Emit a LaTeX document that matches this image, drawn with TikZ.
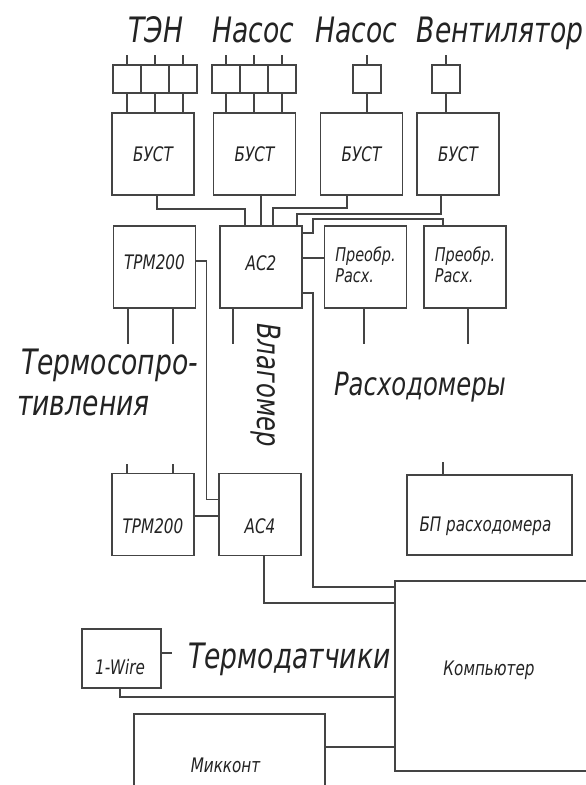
\documentclass[tikz,border=0pt]{standalone}
\usepackage{fontspec}
\setmainfont{DejaVu Sans}[FakeStretch=0.76]
\definecolor{wiregray}{RGB}{68, 68, 68}
\definecolor{inkgray}{RGB}{35, 35, 35}
\usetikzlibrary{positioning}

\begin{document}
\begin{tikzpicture}[
    x=1pt, y=-1pt,
    every node/.append style={text=inkgray},
  ]

  \tikzset{
    unit/.style={
      draw=wiregray, line width=1.3pt, inner sep=0pt, outer sep=0pt,
      minimum width=82, minimum height=82,
      font=\fontsize{20}{20}\selectfont\itshape,
    },
    cell/.style={
      draw=wiregray, line width=1.3pt, inner sep=0pt, outer sep=0pt,
      minimum size=28,
    },
    link/.style={draw=wiregray, line width=1.3pt},
    boxtext/.style={font=\fontsize{20}{20}\selectfont\itshape, inner sep=0pt},
    twoline/.style={font=\fontsize{19}{21}\selectfont\itshape, inner sep=0pt, align=left},
    title/.style={font=\fontsize{35}{35}\selectfont\itshape, inner sep=0pt, anchor=base},
    midtitle/.style={font=\fontsize{32}{32}\selectfont\itshape, inner sep=0pt},
  }

  \useasboundingbox (0, 0) rectangle (586, 785);
  \clip (0, 0) rectangle (586, 785);

  %% ---------------- LOADS ----------------
  \node[title] (tenlbl) at (156, 42) {ТЭН};
  \node[title] (pump1lbl) at (253, 42) {Насос};
  \node[title] (pump2lbl) at (356, 42) {Насос};
  \node[title] (fanlbl) at (500, 42) {Вентилятор};

  % load cells
  \node[cell] (ten1) at (127, 79) {};
  \node[cell, right=0pt of ten1] (ten2) {};
  \node[cell, right=0pt of ten2] (ten3) {};
  \node[cell] (pumpa1) at (226, 79) {};
  \node[cell, right=0pt of pumpa1] (pumpa2) {};
  \node[cell, right=0pt of pumpa2] (pumpa3) {};
  \node[cell] (pumpb) at (367, 79) {};
  \node[cell] (fan) at (446, 79) {};

  % power switches
  \node[unit] (bust1) at (153, 154) {БУСТ};
  \node[unit] (bust2) at (254.5, 154) {БУСТ};
  \node[unit] (bust3) at (361.5, 154) {БУСТ};
  \node[unit] (bust4) at (458, 154) {БУСТ};

  \foreach \c/\b in {ten1/bust1, ten2/bust1, ten3/bust1,
                     pumpa1/bust2, pumpa2/bust2, pumpa3/bust2,
                     pumpb/bust3, fan/bust4} {
    \draw[link] (\c.north) -- ++(0, -10);
    \draw[link] (\c.south) -- (\c.south |- \b.north);
  }

  %% ---------------- MIDDLE ROW ----------------
  \node[unit, label={[boxtext, yshift=5]center:ТРМ200}] (trm1) at (154.5, 267) {};
  \node[unit, label={[boxtext, yshift=4]center:АС2}] (ac2) at (261, 267) {};
  \node[unit, label={[twoline, yshift=2]center:Преобр.\\Расх.}] (conv1) at (365.5, 267) {};
  \node[unit, label={[twoline, yshift=2]center:Преобр.\\Расх.}] (conv2) at (465, 267) {};

  % switches to AC2
  \draw[link] ([xshift=4]bust1.south) -- ++(0, 14) -| ([xshift=-16]ac2.north);
  \draw[link] (bust2.south -| ac2.north) -- (ac2.north);
  \draw[link] ([xshift=-14.5]bust3.south) -- ++(0, 13) -| ([xshift=12]ac2.north);
  \draw[link] ([xshift=-17]bust4.south) -- ++(0, 19) -| ([xshift=36]ac2.north);
  % AC2 to converters
  \draw[link] ([yshift=-7]ac2.north east) -- ++(11, 0) -- ++(0, -14) -| ([xshift=-22]conv2.north);
  \draw[link] ([yshift=9]ac2.east) -- ([yshift=9]conv1.west);

  % sensor leads
  \draw[link] ([xshift=-26.5]trm1.south) -- ++(0, 36);
  \draw[link] ([xshift=18.5]trm1.south) -- ++(0, 36);
  \draw[link] ([xshift=-28]ac2.south) -- ++(0, 36);
  \draw[link] ([xshift=-1.5]conv1.south) -- ++(0, 36);
  \draw[link] ([xshift=3]conv2.south) -- ++(0, 36);

  \node[title, anchor=base west] (res1lbl) at (21, 374) {Термосопро-};
  \node[title, anchor=base west] (res2lbl) at (17, 415) {тивления};
  \node[midtitle, rotate=-90] (humlbl) at (266, 385) {Влагомер};
  \node[midtitle, anchor=base] (flowlbl) at (420, 395) {Расходомеры};

  %% ---------------- LOWER ROW ----------------
  \node[unit, label={[boxtext, yshift=-12]center:ТРМ200}] (trm2) at (153, 514.5) {};
  \node[unit, label={[boxtext, yshift=-12]center:АС4}] (ac4) at (260, 514.5) {};
  \node[unit, minimum width=165, minimum height=80,
        label={[boxtext, yshift=-11, xshift=-4]center:БП расходомера}] (psu) at (489.5, 515) {};

  \draw[link] ([xshift=-26]trm2.north) -- ++(0, -10);
  \draw[link] ([xshift=20]trm2.north) -- ++(0, -10);
  \draw[link] ([xshift=-46.5]psu.north) -- ++(0, -13);
  \draw[link] ([yshift=6]trm1.east) -- ++(11, 0) |- ([yshift=15]ac4.west);
  \draw[link] ([yshift=-1.5]trm2.east) -- ([yshift=-1.5]ac4.west);

  %% ---------------- COMPUTER ----------------
  \node[unit, minimum width=195, minimum height=190,
        label={[boxtext, yshift=6, xshift=-3.5]center:Компьютер}] (pc) at (492.5, 676) {};
  \node[unit, minimum width=79, minimum height=59,
        label={[boxtext, yshift=-9, xshift=-1.5]center:1-Wire}] (onewire) at (121.5, 658.5) {};
  \node[unit, minimum width=191, minimum height=110,
        label={[boxtext, yshift=4, xshift=-4]center:Микконт}] (mcu) at (229.5, 769) {};
  \node[title, anchor=base west] (thermolbl) at (188, 668) {Термодатчики};

  \draw[link] ([yshift=-26]ac2.east) -- ++(11, 0) |- ([yshift=-6]pc.north west);
  \draw[link] ([xshift=4]ac4.south) |- ([yshift=-22]pc.north west);
  \draw[link] ([xshift=-1.5]onewire.south) |- ([yshift=-116]pc.north west);
  \draw[link] ([yshift=5.5]onewire.east) -- ++(11, 0);
  \draw[link] ([yshift=-33]mcu.north east) -| (pc.west);

\end{tikzpicture}
\end{document}
